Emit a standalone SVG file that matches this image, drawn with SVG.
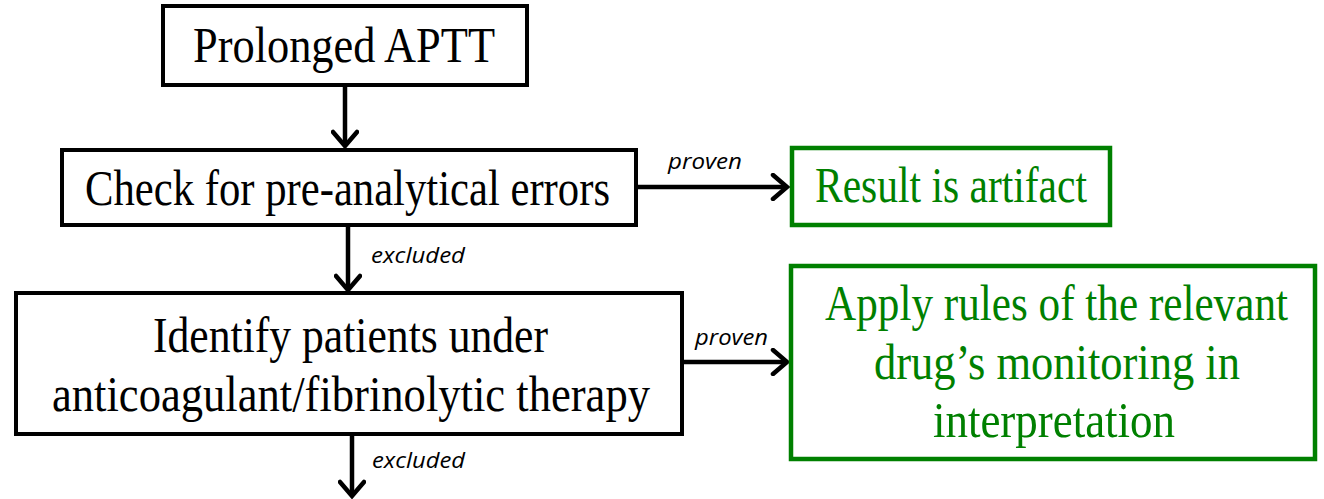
<svg xmlns="http://www.w3.org/2000/svg" width="1324" height="499" viewBox="0 0 1324 499">
<style>
.box{fill:#fff;stroke:#000;stroke-width:4}
.gbox{fill:#fff;stroke:#008000;stroke-width:4.5}
.t{font-family:"Liberation Serif",serif;font-size:43px;fill:#000}
.g{fill:#008000}
.lbl{font-family:"Open Sans","Liberation Sans",sans-serif;font-style:italic;font-size:22px;fill:#000}
.con{stroke:#000;stroke-width:4.5;fill:none}
</style>
<defs>
<marker id="ah" viewBox="0 0 22 28" refX="18" refY="14" markerWidth="22" markerHeight="28" markerUnits="userSpaceOnUse" orient="auto">
<path d="M4,2 L18,14 L4,26" fill="none" stroke="#000" stroke-width="4.5" stroke-linecap="round"/>
</marker>
</defs>
<g id="connectors">
<line class="con" x1="345" y1="85" x2="345" y2="146" marker-end="url(#ah)"/>
<line class="con" x1="348" y1="226" x2="348" y2="290" marker-end="url(#ah)"/>
<line class="con" x1="352" y1="436" x2="352" y2="496" marker-end="url(#ah)"/>
<line class="con" x1="636" y1="187" x2="787" y2="187" marker-end="url(#ah)"/>
<line class="con" x1="682" y1="362" x2="787" y2="362" marker-end="url(#ah)"/>
<text class="lbl" x="668" y="169" textLength="74" lengthAdjust="spacingAndGlyphs">proven</text>
<text class="lbl" x="371" y="263" textLength="94" lengthAdjust="spacingAndGlyphs">excluded</text>
<text class="lbl" x="695" y="345" textLength="73" lengthAdjust="spacingAndGlyphs">proven</text>
<text class="lbl" x="372" y="468" textLength="93" lengthAdjust="spacingAndGlyphs">excluded</text>
</g>
<g id="n1">
<rect class="box" x="163" y="6" width="364" height="79"/>
<text class="t" transform="translate(193,62) scale(1,1.2)" textLength="302" lengthAdjust="spacingAndGlyphs">Prolonged APTT</text>
</g>
<g id="n2">
<rect class="box" x="62" y="150" width="574" height="75"/>
<text class="t" transform="translate(85,205) scale(1,1.2)" textLength="525" lengthAdjust="spacingAndGlyphs">Check for pre-analytical errors</text>
</g>
<g id="n3">
<rect class="box" x="16" y="293" width="666" height="141"/>
<text class="t" transform="translate(153,352) scale(1,1.2)" textLength="395" lengthAdjust="spacingAndGlyphs">Identify patients under</text>
<text class="t" transform="translate(52,411) scale(1,1.2)" textLength="598" lengthAdjust="spacingAndGlyphs">anticoagulant/fibrinolytic therapy</text>
</g>
<g id="n4">
<rect class="gbox" x="792" y="148" width="318" height="77"/>
<text class="t g" transform="translate(815,202) scale(1,1.2)" textLength="272" lengthAdjust="spacingAndGlyphs">Result is artifact</text>
</g>
<g id="n5">
<rect class="gbox" x="791" y="266" width="524" height="193"/>
<text class="t g" transform="translate(825,320) scale(1,1.2)" textLength="463" lengthAdjust="spacingAndGlyphs">Apply rules of the relevant</text>
<text class="t g" transform="translate(874,379) scale(1,1.2)" textLength="366" lengthAdjust="spacingAndGlyphs">drug’s monitoring in</text>
<text class="t g" transform="translate(933,437) scale(1,1.2)" textLength="242" lengthAdjust="spacingAndGlyphs">interpretation</text>
</g>
</svg>
